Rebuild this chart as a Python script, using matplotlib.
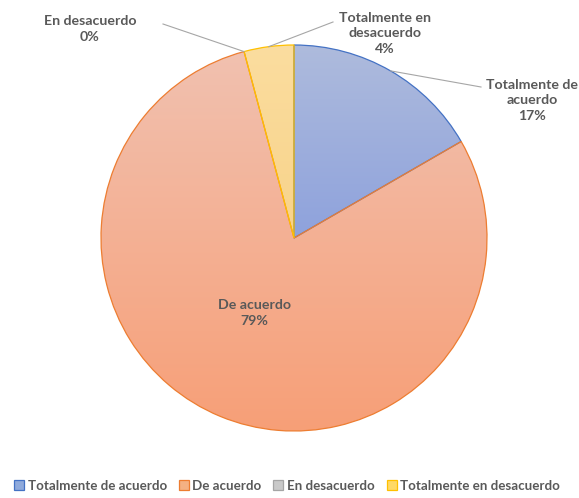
import numpy as np
import matplotlib
matplotlib.use('Agg')
from matplotlib import pyplot as plt
from matplotlib.colors import LinearSegmentedColormap
from matplotlib.patches import Patch

categorias = ['Totalmente de acuerdo', 'De acuerdo', 'En desacuerdo', 'Totalmente en desacuerdo']
respuestas = [4, 19, 0, 1]
bordes = ['#4472C4', '#ED7D31', '#A5A5A5', '#FFC000']
# degradado (arriba, abajo) de cada porción
degradados = [('#aebbdc', '#8ea2dd'), ('#f1c1b0', '#f79f77'),
              ('#d0d0d0', '#b8b8b8'), ('#fbdd9f', '#f8d38a')]
legend_fill = ['#8faadc', '#f4b183', '#c9c9c9', '#ffd966']

plt.rcParams['font.family'] = ['Lato', 'DejaVu Sans']
gris = '#595959'

fig = plt.figure(figsize=(5.79, 4.98), dpi=100)
ax = fig.add_axes([0, 0, 1, 1])
centro = (294, 260)
radio = 193

wedges, _ = ax.pie(respuestas, startangle=90, counterclock=False, center=centro,
                   radius=radio, wedgeprops=dict(linewidth=0.9, facecolor='none'))
for w, borde, v in zip(wedges, bordes, respuestas):
    w.set_edgecolor(borde)
    w.set_zorder(3)
    if v == 0:
        w.set_linewidth(0)

# relleno con degradado vertical recortado a cada porción
for w, (arriba, abajo), v in zip(wedges, degradados, respuestas):
    if v == 0:
        continue
    verts = w.get_path().vertices
    x0, x1 = verts[:, 0].min(), verts[:, 0].max()
    y0, y1 = verts[:, 1].min(), verts[:, 1].max()
    cmap = LinearSegmentedColormap.from_list('g', [abajo, arriba])
    grad = np.linspace(0, 1, 256).reshape(-1, 1)
    im = ax.imshow(grad, cmap=cmap, extent=[x0, x1, y0, y1], origin='lower',
                   aspect='auto', zorder=1)
    im.set_clip_path(w)

def punto_medio(w):
    ang = np.deg2rad((w.theta1 + w.theta2) / 2)
    return centro[0] + radio * np.cos(ang), centro[1] + radio * np.sin(ang)

total = sum(respuestas)
pct = [round(v / total * 100) for v in respuestas]

estilo = dict(fontsize=10.2, fontweight='bold', color=gris, ha='center', va='center',
              linespacing=1.35, zorder=5)

# etiquetas
ax.text(532, 398, 'Totalmente de\nacuerdo\n%d%%' % pct[0], **estilo)
ax.text(254, 185, 'De acuerdo\n%d%%' % pct[1], **estilo)
ax.text(90, 469, 'En desacuerdo\n%d%%' % pct[2], **estilo)
ax.text(385, 465, 'Totalmente en\ndesacuerdo\n%d%%' % pct[3], **estilo)

# líneas guía
for i, fin in [(0, (481, 411)), (2, (163, 474)), (3, (333, 476))]:
    px, py = punto_medio(wedges[i])
    ax.plot([px, fin[0]], [py, fin[1]], color='#a6a6a6', lw=0.8, zorder=4)

handles = [Patch(facecolor=f, edgecolor=b, linewidth=0.9) for f, b in zip(legend_fill, bordes)]
leg = ax.legend(handles, categorias, loc='center', bbox_to_anchor=(287 / 579, 12 / 498),
                ncol=4, frameon=False, handlelength=0.75, handleheight=0.75,
                handletextpad=0.25, columnspacing=0.9,
                prop=dict(size=9.6, weight='bold'))
for t in leg.get_texts():
    t.set_color(gris)

ax.set_xlim(0, 579)
ax.set_ylim(0, 498)
ax.axis('off')

fig.savefig('out.png', dpi=100)
